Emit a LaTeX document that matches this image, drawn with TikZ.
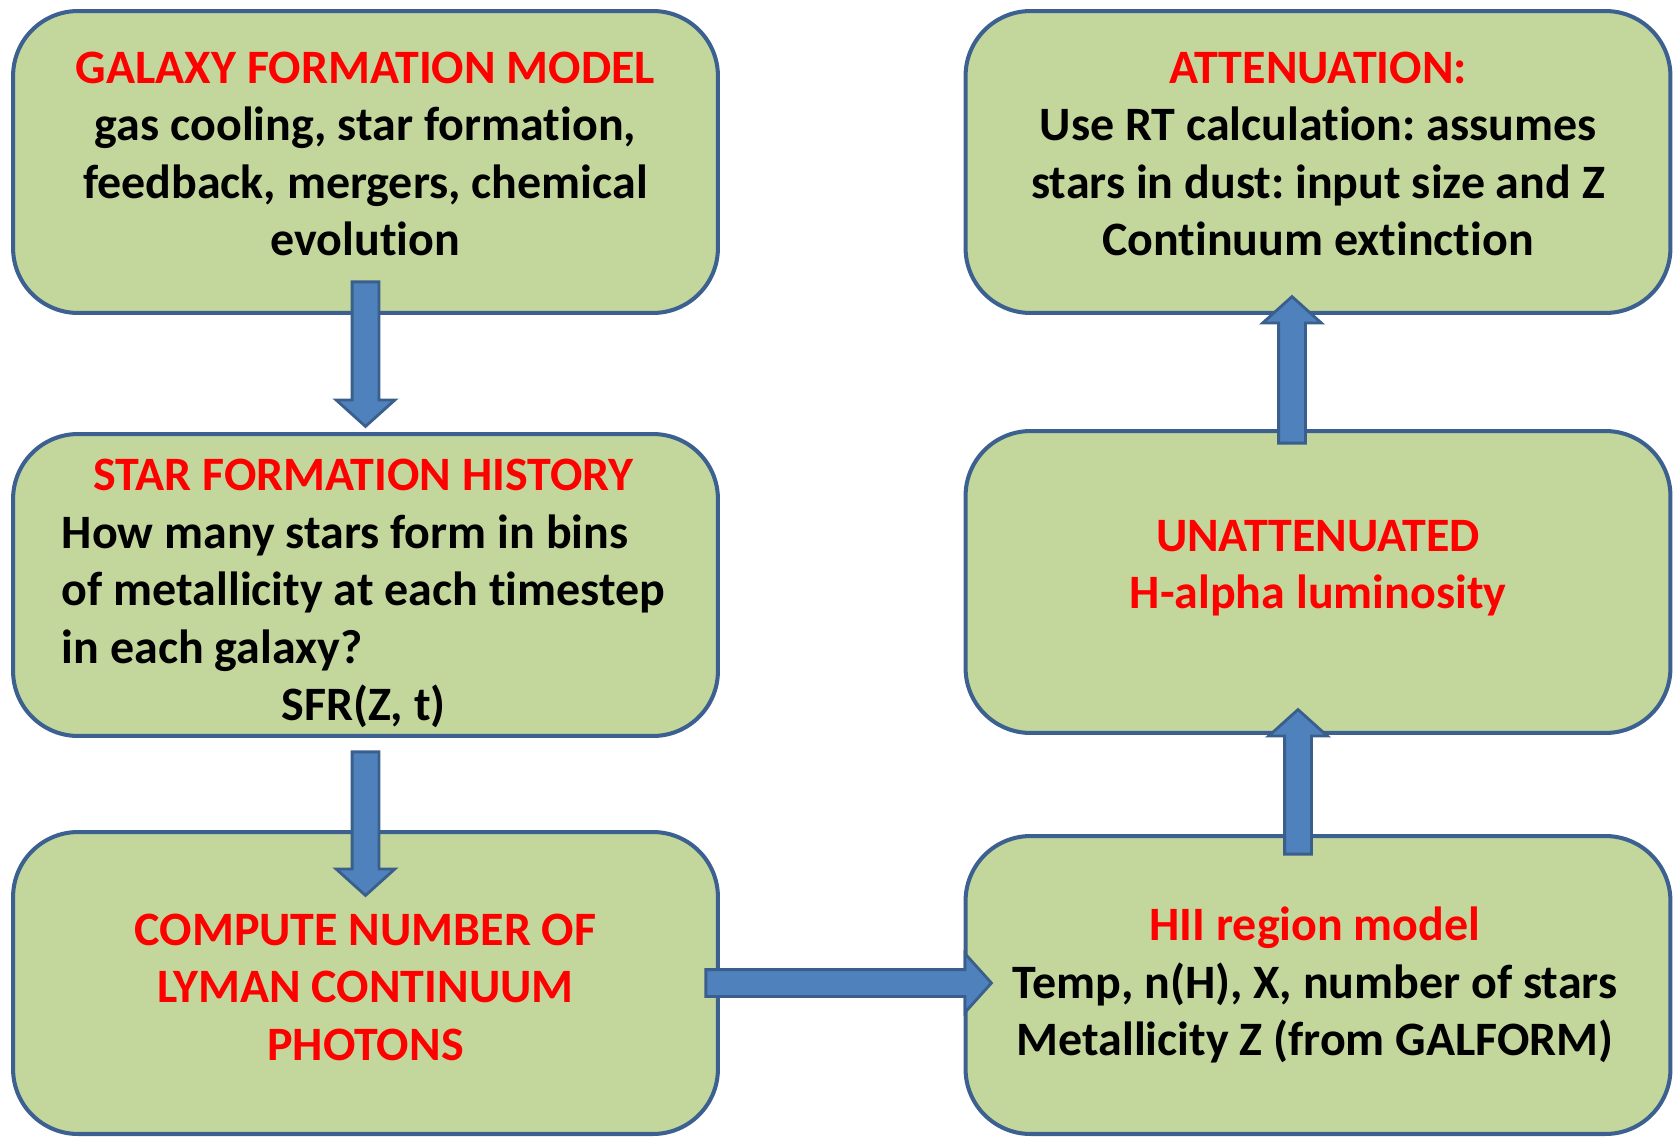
\documentclass[tikz,border=0pt]{standalone}
\usepackage{fontspec}
\setmainfont[Ligatures=NoCommon]{Carlito}
\usetikzlibrary{calc,shapes.arrows}
\definecolor{stagefill}{HTML}{C3D69B}
\definecolor{stageline}{HTML}{3C6090}
\definecolor{flowfill}{HTML}{4F81BD}
\definecolor{flowline}{HTML}{3A5F8C}
\definecolor{titlered}{HTML}{FF0000}
\tikzset{
  stage/.style={
    draw=stageline,
    line width=2.3pt,
    rounded corners=1.3cm,
    fill=stagefill,
    minimum width=14.1cm,
    minimum height=#1
  },
  stage/.default=6.04cm,
  stagetext/.style={
    align=center,
    inner sep=0pt,
    font=\bfseries\fontsize{27.3}{32.7}\selectfont\frenchspacing
  },
  flow/.style={
    single arrow,
    draw=flowline,
    fill=flowfill,
    line width=1.6pt,
    inner xsep=0pt,
    inner ysep=0.24cm,
    minimum width=1.12cm,
    single arrow head extend=0.32cm,
    single arrow tip angle=96,
    anchor=tail
  }
}
\newcommand{\stagetitle}[1]{\textcolor{titlered}{#1}}
\newlength{\binwidth}
\AtBeginDocument{\settowidth{\binwidth}{\bfseries\fontsize{27.3}{32.7}\selectfont of metallicity at each timestep}}
% block arrow: name, tail coordinate, tip coordinate
\newcommand{\flowarrow}[3]{%
  \path let \p1=(#2), \p2=(#3) in
    node[flow, minimum height={veclen(\x2-\x1,\y2-\y1)},
      rotate={atan2(\y2-\y1,\x2-\x1)}] (#1) at (#2) {};}

\begin{document}
\begin{tikzpicture}[x=0.02cm, y=-0.02cm]
  \useasboundingbox (0,0) rectangle (1680,1139);

  % boxes
  \node[stage] (model) at (365.5,162) {};
  \node[stage] (history) at (365.5,585) {};
  \node[stage] (photons) at (365.5,983) {};
  \node[stage] (attenuation) at (1318,162) {};
  \node[stage] (halpha) at (1318,582) {};
  \node[stage=5.96cm] (hii) at (1318,985) {};

  % texts
  \node[stagetext] (model-text) at ($(model)+(0,-8)$)
    {\stagetitle{GALAXY FORMATION MODEL}\\gas cooling, star formation,\\feedback, mergers, chemical\\evolution};
  \node[stagetext] (history-text) at ($(history)+(-2,8.5)$)
    {\stagetitle{STAR FORMATION HISTORY}\\
     \makebox[\binwidth][l]{How many stars form in bins}\\
     \makebox[\binwidth][l]{of metallicity at each timestep}\\
     \makebox[\binwidth][l]{in each galaxy?}\\
     SFR(Z, t)};
  \node[stagetext] (photons-text) at ($(photons)+(0,4)$)
    {\stagetitle{COMPUTE NUMBER OF}\\\stagetitle{LYMAN CONTINUUM}\\\stagetitle{PHOTONS}};
  \node[stagetext] (attenuation-text) at ($(attenuation)+(0,-8)$)
    {\stagetitle{ATTENUATION:}\\Use RT calculation: assumes\\stars in dust: input size and Z\\Continuum extinction};
  \node[stagetext] (halpha-text) at ($(halpha)+(0,-14)$)
    {\stagetitle{UNATTENUATED}\\\stagetitle{H-alpha luminosity}};
  \node[stagetext] (hii-text) at ($(hii)+(-3,0)$)
    {\stagetitle{HII region model}\\Temp, n(H), X, number of stars\\Metallicity Z (from GALFORM)};

  % arrow ends
  \coordinate (a1-tail) at ($(model.south)+(0,-34.5)$);
  \coordinate (a1-tip) at ($(history.north)+(0,-7)$);
  \coordinate (a2-tail) at ($(history.south)+(0,12.5)$);
  \coordinate (a2-tip) at ($(photons.north)+(0,64)$);
  \coordinate (a3-tail) at ($(photons.east)+(-15.5,0)$);
  \coordinate (a3-tip) at ($(photons.east -| hii.west)+(26.5,0)$);
  \coordinate (a4-tail) at ($(hii.north)+(-20,21.5)$);
  \coordinate (a4-tip) at ($(halpha.south)+(-20,-24)$);
  \coordinate (a5-tail) at ($(halpha.north)+(-26,15.5)$);
  \coordinate (a5-tip) at ($(attenuation.south)+(-26,-17)$);

  % arrows
  \flowarrow{a1}{a1-tail}{a1-tip}
  \flowarrow{a2}{a2-tail}{a2-tip}
  \flowarrow{a3}{a3-tail}{a3-tip}
  \flowarrow{a4}{a4-tail}{a4-tip}
  \flowarrow{a5}{a5-tail}{a5-tip}
\end{tikzpicture}
\end{document}
